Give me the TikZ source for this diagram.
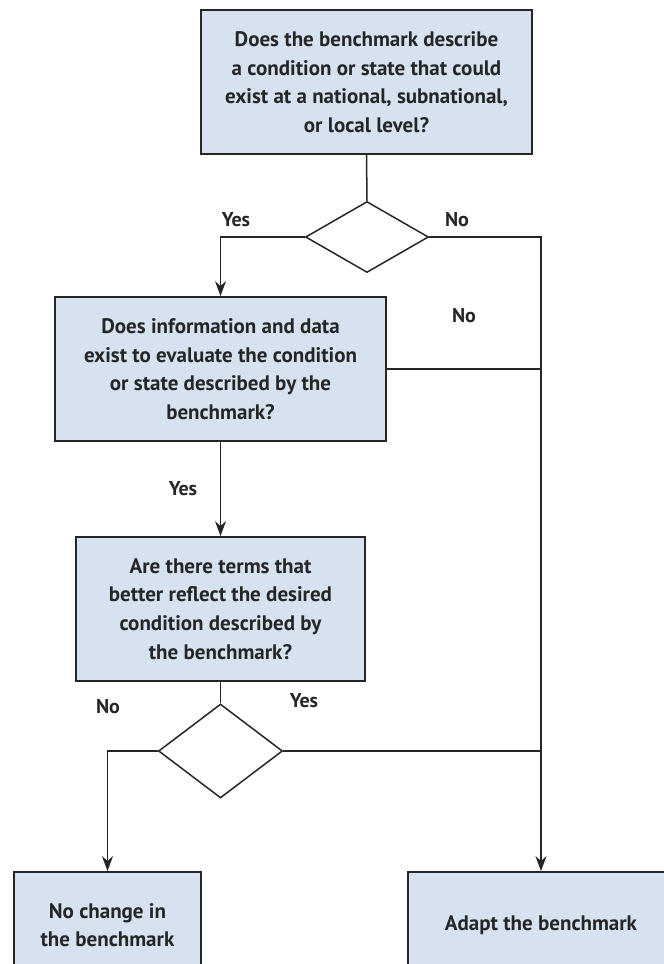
\documentclass[tikz,border=0pt]{standalone}
\usepackage{fontspec}
\setmainfont{PT Sans}
\usetikzlibrary{arrows.meta,shapes.geometric,calc}
\definecolor{boxfill}{HTML}{D6E2F0}
\definecolor{ink}{HTML}{262626}
\tikzset{
  qbox/.style={draw=ink, line width=1.8pt, fill=boxfill, inner sep=0pt, align=center,
    font=\fontsize{21}{28.6}\selectfont\bfseries, text=ink},
  dec/.style={draw=ink, line width=1.5pt, diamond, inner sep=0pt},
  conn/.style={draw=ink, line width=1.5pt},
  arr/.style={conn, -{Stealth[length=15pt,width=11pt]}},
  lbl/.style={font=\fontsize{20}{22}\selectfont\bfseries, text=ink, inner sep=0pt}
}
\begin{document}
\begin{tikzpicture}[x=1pt,y=-1pt]
\useasboundingbox (0,0) rectangle (664,964);
% boxes
\node[qbox, minimum width=331pt, minimum height=144pt] (b1) at (366.5,82)
  {Does the benchmark describe\\a condition or state that could\\exist at a national, subnational,\\or local level?};
\node[dec, minimum width=123pt, minimum height=71pt] (d1) at (367,237) {};
\node[qbox, minimum width=331pt, minimum height=144pt] (b2) at (220.5,369)
  {Does information and data\\exist to evaluate the condition\\or state described by the\\benchmark?};
\node[qbox, minimum width=289pt, minimum height=144pt] (b3) at (220.5,609)
  {Are there terms that\\better reflect the desired\\condition described by\\the benchmark?};
\node[dec, minimum width=124pt, minimum height=94pt] (d2) at (220.5,751) {};
\node[qbox, minimum width=187pt, minimum height=106pt] (b4) at (107.5,925)
  {No change in\\the benchmark};
\node[qbox, minimum width=266pt, minimum height=106pt] (b5) at (541,925)
  {Adapt the benchmark};
% labels
\node[lbl] (y1) at (236,220) {Yes};
\node[lbl] (n1) at (457,220) {No};
\node[lbl] (n2) at (464,316) {No};
\node[lbl] (y2) at (183,489) {Yes};
\node[lbl] (n3) at (108,707) {No};
\node[lbl] (y3) at (304,701) {Yes};
% connectors
\draw[conn] (b1.south) -- (d1.north);
\draw[arr] (d1.west) -| (b2.north);
\draw[arr] (d1.east) -| (b5.north);
\draw[conn] (b2.east) -- (b2.east -| b5.north);
\draw[arr] (b2.south) -- (b3.north);
\draw[conn] (b3.south) -- (d2.north);
\draw[arr] (d2.west) -| (b4.north);
\draw[conn] (d2.east) -- (d2.east -| b5.north);
\end{tikzpicture}
\end{document}
